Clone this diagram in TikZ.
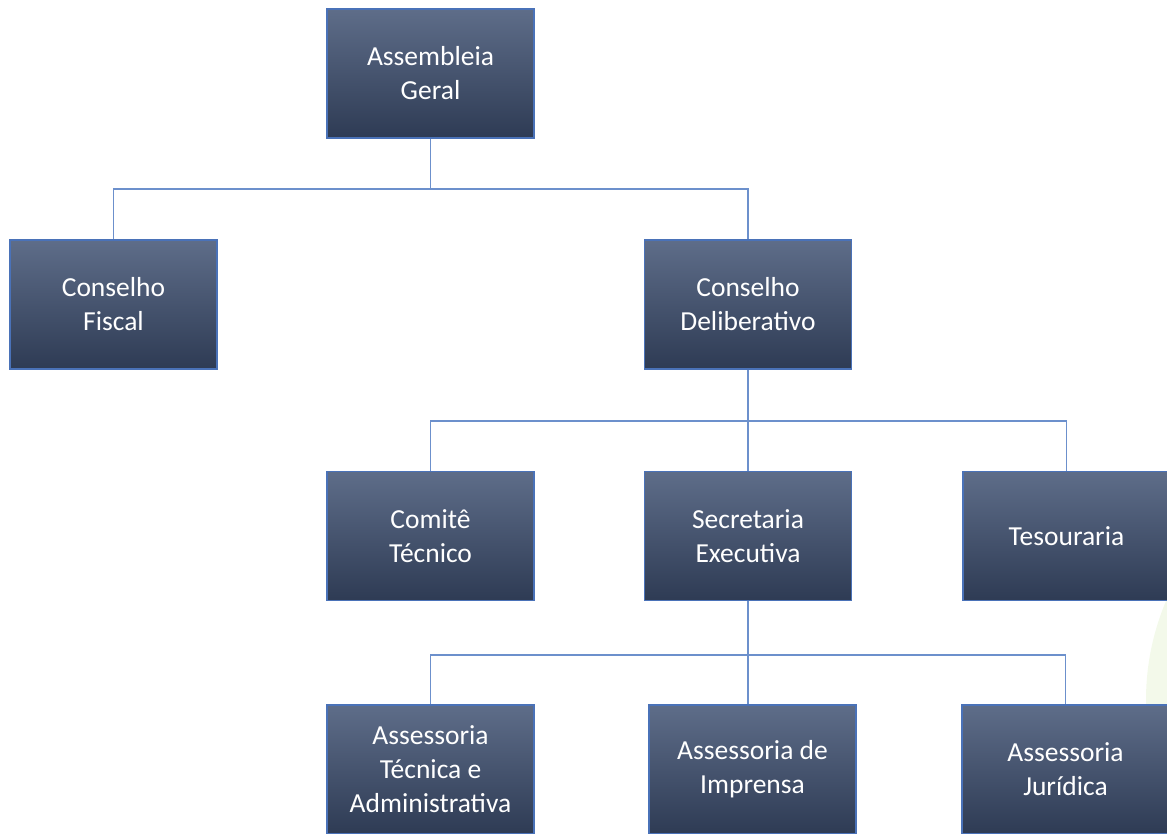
\documentclass[tikz,border=0pt]{standalone}
\usepackage{fontspec}
\setmainfont{Carlito}
\usetikzlibrary{calc}
\definecolor{boxtop}{HTML}{5E6D89}
\definecolor{boxbot}{HTML}{2E3B54}
\definecolor{boxline}{HTML}{4A72B8}
\definecolor{connline}{HTML}{6C90CC}
\definecolor{faintgreen}{HTML}{F3F9EA}
\tikzset{
  orgbox/.style={rectangle, minimum width=207pt, minimum height=129pt, inner sep=0pt,
    top color=boxtop, bottom color=boxbot, draw=boxline, line width=1.3pt,
    text=white, align=center, font=\fontsize{27.5}{34}\selectfont},
  conn/.style={draw=connline, line width=1.4pt}
}
\begin{document}
\begin{tikzpicture}[x=1pt,y=-1pt]
\useasboundingbox (0,0) rectangle (1167,834);
\clip (0,0) rectangle (1167,834);
\fill[faintgreen] (1400,700) circle (254);
\node[orgbox] (AG) at (430.5,73.5) {Assembleia\\Geral};
\node[orgbox] (CF) at (113.5,304.5) {Conselho\\Fiscal};
\node[orgbox] (CD) at (748,304.5) {Conselho\\Deliberativo};
\node[orgbox] (CT) at (430.5,536) {Comitê\\Técnico};
\node[orgbox] (SE) at (748,536) {Secretaria\\Executiva};
\node[orgbox] (TE) at (1066.5,536) {Tesouraria};
\node[orgbox] (ATA) at (430.5,769.5) {Assessoria\\Técnica e\\Administrativa};
\node[orgbox] (AI) at (752.5,769.5) {Assessoria de\\Imprensa};
\node[orgbox] (AJ) at (1065.5,769.5) {Assessoria\\Jurídica};
\coordinate (b1) at (430.5,189);
\coordinate (b2) at (748,421);
\coordinate (b3) at (748,655);
\draw[conn] (AG.south) -- (b1) -| (CF.north);
\draw[conn] (b1) -| (CD.north);
\draw[conn] (CD.south) -- (b2) -| (CT.north);
\draw[conn] (b2) -- (SE.north);
\draw[conn] (b2) -| (TE.north);
\draw[conn] (SE.south) -- (b3) -| (ATA.north);
\draw[conn] (b3) -- (b3 |- AI.north);
\draw[conn] (b3) -| (AJ.north);
\end{tikzpicture}
\end{document}
